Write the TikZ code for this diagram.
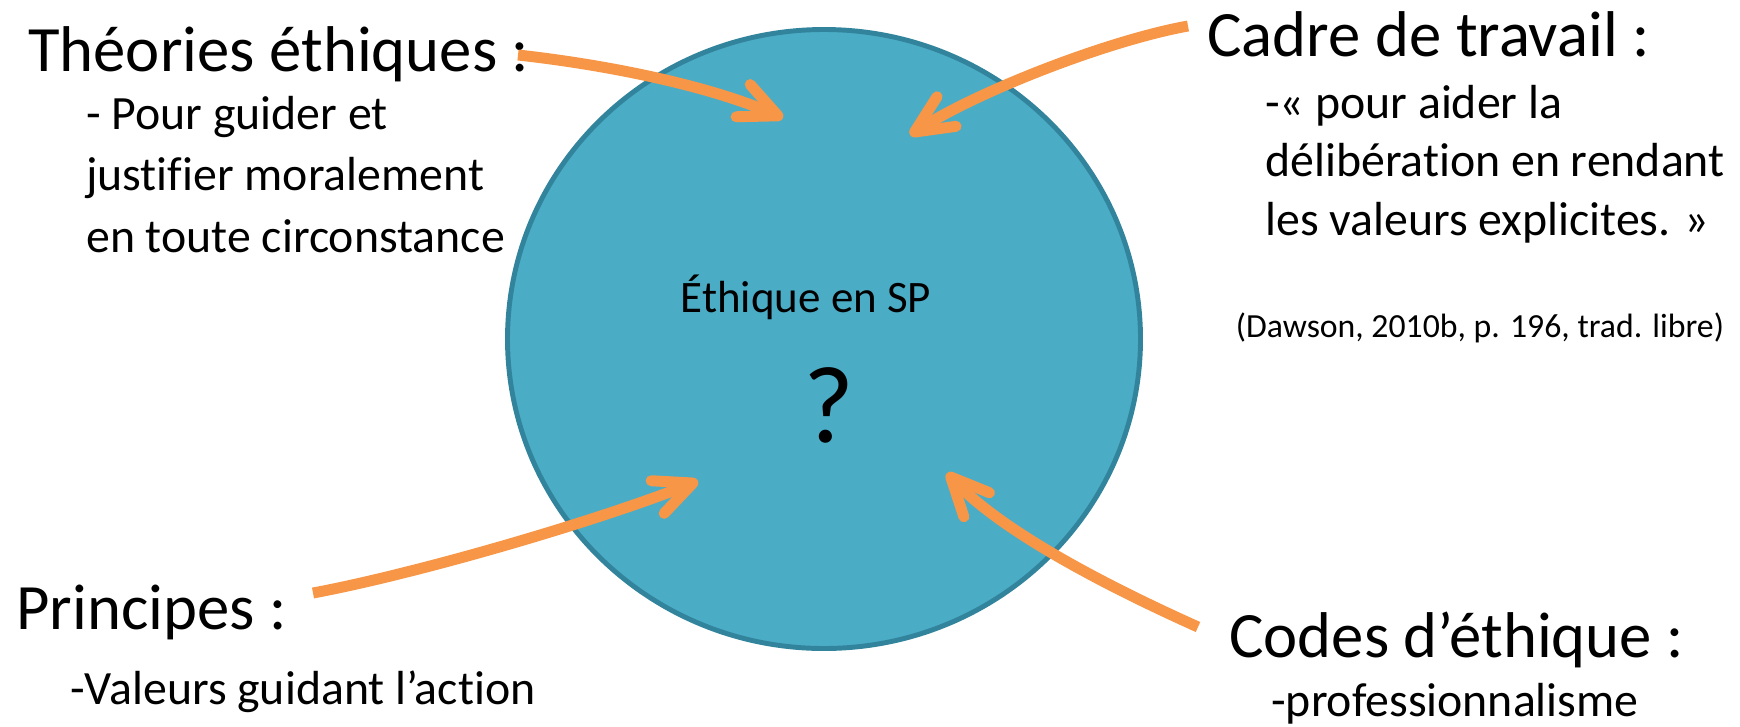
\documentclass[tikz,border=0pt]{standalone}
\usepackage{fontspec}
\setmainfont{Carlito}[Ligatures=NoCommon]
\usepackage{tikz}
\usetikzlibrary{arrows.meta}
\definecolor{discfill}{HTML}{4BACC6}
\definecolor{discline}{HTML}{31849B}
\definecolor{arroworange}{HTML}{F79646}
\tikzset{
  heading/.style={anchor=base west, inner sep=0pt, font=\fontsize{46}{55}\selectfont},
  subtext/.style={anchor=base west, inner sep=0pt, align=left, font=\fontsize{34}{43.5}\selectfont},
  bigarrow/.style={draw=arroworange, line width=7.8pt, line cap=butt,
    -{Straight Barb[round, length=27pt, width=25pt]}}
}

\begin{document}
\begin{tikzpicture}[x=0.025cm, y=-0.025cm]
            \useasboundingbox (0,0) rectangle (1740,726);

            % Draw the disc
            \draw[fill=discfill, draw=discline, line width=3.5pt] (824,339) ellipse [x radius=316.5, y radius=309.5];
            \node[inner sep=0pt, anchor=base, font=\fontsize{32}{38}\selectfont] (ethique) at (806,312) {Éthique en SP};
            \node[inner sep=0pt, anchor=base, font=\fontsize{78}{94}\selectfont] (question) at (829,442) {?};

            % Labels around the disc (base of a block = its last line)
            \node[heading] (theories) at (28,71) {Théories éthiques :};
            \node[subtext] (theoriestxt) at (86,252) {- Pour guider et\\justifier moralement\\en toute circonstance};
            \node[heading] (cadre) at (1207,56) {Cadre de travail :};
            \node[subtext, font=\fontsize{34}{41.5}\selectfont] (cadretxt) at (1265,235) {-« pour aider la\\délibération en rendant\\les valeurs explicites. »};
            \node[inner sep=0pt, anchor=base, font=\fontsize{24}{29}\selectfont] (dawson) at (1480,337) {(Dawson, 2010b, p. 196, trad. libre)};
            \node[heading] (principes) at (16,629) {Principes :};
            \node[subtext] (principestxt) at (70,704) {-Valeurs guidant l’action};
            \node[heading] (codes) at (1229,657) {Codes d’éthique :};
            \node[subtext] (codestxt) at (1271,716) {-professionnalisme};

            % Arrow ends
            \coordinate (from1) at (518,55);
            \coordinate (tip1) at (783,118);
            \coordinate (from2) at (1188,26);
            \coordinate (tip2) at (910,135);
            \coordinate (from3) at (313,593);
            \coordinate (tip3) at (698,481);
            \coordinate (from4) at (1198,627);
            \coordinate (tip4) at (947,473);

            % Arrows into the disc
            \draw[bigarrow] (from1) .. controls (600,64) and (705,84) .. (tip1);
            \draw[bigarrow] (from2) .. controls (1110,40) and (980,90) .. (tip2);
            \draw[bigarrow] (from3) .. controls (420,573) and (600,520) .. (tip3);
            \draw[bigarrow] (from4) .. controls (1120,592) and (1005,535) .. (tip4);
        \end{tikzpicture}
\end{document}
